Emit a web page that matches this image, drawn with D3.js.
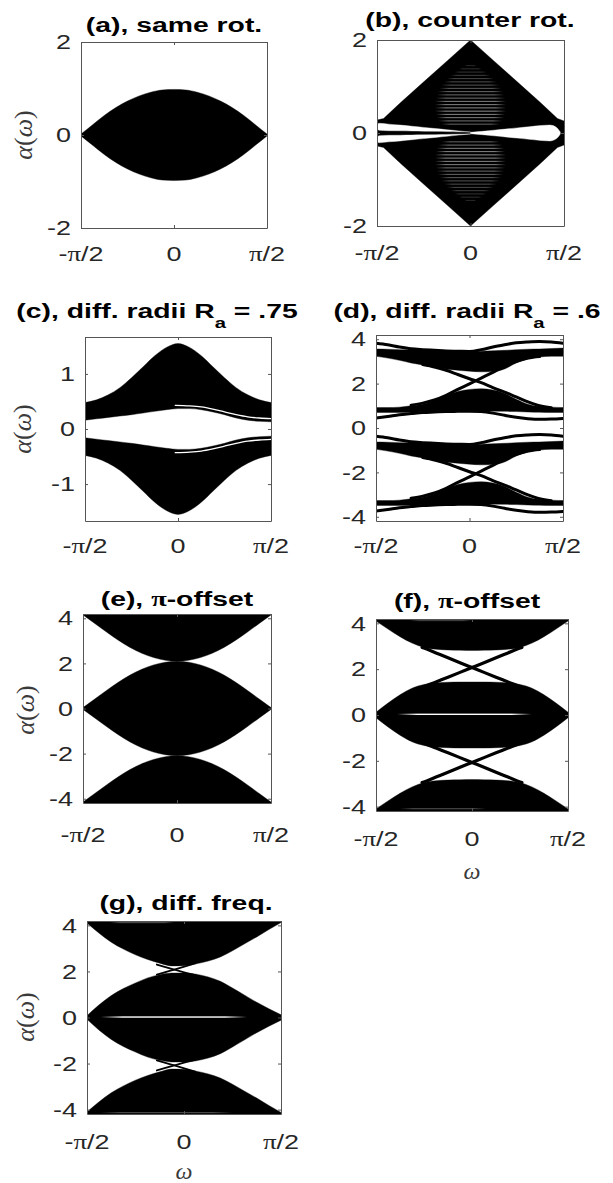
<!DOCTYPE html>
<html>
<head>
<meta charset="utf-8">
<script src="https://cdn.jsdelivr.net/npm/d3@7"></script>
<style>
  html, body { margin: 0; padding: 0; background: #fff; }
  svg { display: block; }
</style>
</head>
<body>
<svg id="fig" width="613" height="1183"></svg>
<script>
// ---------------------------------------------------------------
// Quasi-energy spectra α(ω) for seven rotor configurations.
// ω is stored in units of π/2, so the x range is [-1, 1].
// ---------------------------------------------------------------

const omega = [-1, -0.875, -0.75, -0.625, -0.5, -0.375, -0.25, -0.125, 0,
               0.125, 0.25, 0.375, 0.5, 0.625, 0.75, 0.875, 1];
const omegaTicks = [-1, 0, 1];
const omegaTickLabels = ["-π/2", "0", "π/2"];

const alphaTicksSmall = [-2, 0, 2];
const alphaTicksRa75 = [-1, 0, 1];
const alphaTicksWide = [-4, -2, 0, 2, 4];
const alphaMax = 4.19;          // 4π/3, the quasi-energy zone edge
const alphaMaxRa75 = 1.67;

// (a) same rotation: single band, symmetric in α
const aBandTop = [0.02, 0.22, 0.42, 0.59, 0.73, 0.84, 0.92, 0.97, 0.98,
                  0.97, 0.92, 0.84, 0.73, 0.59, 0.42, 0.22, 0.02];

// (b) counter rotation: diamond-shaped band with gaps around α = 0
const omegaB = [-1, -0.93, -0.75, -0.5, -0.25, 0, 0.25, 0.5, 0.75, 0.93, 1];
const bOuterTop = [0.28, 0.31, 0.65, 1.10, 1.55, 2.0, 1.55, 1.10, 0.65, 0.31, 0.26];
const omegaGapLeft = [-1, -0.98, -0.875, -0.75, -0.625, -0.5, -0.375, -0.25, -0.125, 0];
const bGapUpperLeftTop = [0.15, 0.21, 0.19, 0.17, 0.145, 0.12, 0.095, 0.07, 0.045, 0.02];
const bGapUpperLeftBottom = [0.13, 0.06, 0.05, 0.048, 0.044, 0.04, 0.035, 0.03, 0.025, 0.02];
const omegaGapRight = [0, 0.125, 0.25, 0.375, 0.5, 0.625, 0.75, 0.85, 0.92, 0.96];
const bGapRightTop = [0.015, 0.035, 0.06, 0.085, 0.11, 0.135, 0.16, 0.17, 0.12, 0.02];
// fine interference stripes inside the diamond (upper half)
const bStripeLevels = [1.45, 1.38, 1.31, 1.24, 1.17, 1.10, 1.03, 0.96, 0.89, 0.82,
                       0.75, 0.68, 0.61, 0.54, 0.47, 0.40, 0.33, 0.26, 0.19];
const bStripeHalfWidth = [0.06, 0.12, 0.17, 0.21, 0.25, 0.28, 0.31, 0.33, 0.35, 0.36,
                          0.37, 0.38, 0.38, 0.38, 0.38, 0.37, 0.36, 0.34, 0.31];
const bStripeOpacity = [0.15, 0.18, 0.2, 0.24, 0.27, 0.3, 0.33, 0.36, 0.4, 0.42,
                        0.45, 0.5, 0.52, 0.55, 0.55, 0.52, 0.5, 0.45, 0.4];

// (c) different radii, R_a = .75
const cUpperTop = [0.48, 0.53, 0.62, 0.75, 0.93, 1.13, 1.33, 1.48, 1.55,
                   1.48, 1.33, 1.13, 0.93, 0.75, 0.62, 0.53, 0.48];
const cUpperBottom = [0.16, 0.185, 0.21, 0.235, 0.26, 0.29, 0.32, 0.35, 0.37,
                      0.37, 0.35, 0.31, 0.26, 0.20, 0.16, 0.14, 0.13];
const omegaCEdge = [-0.03, 0.125, 0.25, 0.375, 0.5, 0.625, 0.75, 0.875, 1];
const cEdgeState = [0.43, 0.42, 0.40, 0.36, 0.31, 0.26, 0.22, 0.20, 0.19];

// (d) different radii, R_a = .6 (one zone; repeats every dPeriod in α)
const dPeriod = 4.19;
const dTopBandTop = [3.56, 3.55, 3.53, 3.52, 3.50, 3.49, 3.47, 3.46, 3.45,
                     3.46, 3.48, 3.50, 3.53, 3.55, 3.56, 3.58, 3.60];
const dTopBandBottom = [3.23, 3.15, 3.05, 2.93, 2.84, 2.75, 2.66, 2.60, 2.56,
                        2.53, 2.54, 2.66, 2.93, 3.11, 3.20, 3.23, 3.23];
const dLowBandTop = [0.92, 0.92, 0.94, 1.00, 1.07, 1.22, 1.44, 1.64, 1.74,
                     1.77, 1.71, 1.56, 1.29, 1.07, 0.97, 0.94, 0.92];
const dLowBandBottom = [0.70, 0.70, 0.70, 0.71, 0.73, 0.75, 0.76, 0.77, 0.77,
                        0.77, 0.76, 0.75, 0.74, 0.72, 0.71, 0.70, 0.70];
const dTopLine = [3.82, 3.75, 3.65, 3.57, 3.53, 3.50, 3.47, 3.46, 3.45,
                  3.53, 3.65, 3.75, 3.84, 3.88, 3.90, 3.88, 3.82];
const dBottomLine = [0.45, 0.52, 0.60, 0.65, 0.70, 0.72, 0.74, 0.75, 0.76,
                     0.74, 0.67, 0.57, 0.48, 0.42, 0.39, 0.40, 0.43];
const omegaDRise = [-0.625, -0.5, -0.375, -0.25, -0.125, 0, 0.125, 0.25, 0.375, 0.5, 0.625, 0.75];
const dRiseLine = [1.03, 1.12, 1.26, 1.47, 1.74, 1.99, 2.25, 2.51, 2.78, 3.00, 3.15, 3.22];
const omegaDFall = [-0.5, -0.375, -0.25, -0.125, 0, 0.125, 0.25, 0.375, 0.5, 0.625, 0.75, 0.875];
const dFallLine = [2.86, 2.75, 2.60, 2.41, 2.22, 2.04, 1.82, 1.62, 1.40, 1.18, 1.00, 0.91];

// (e) π-offset
const eMidTop = [0.04, 0.42, 0.80, 1.16, 1.48, 1.74, 1.93, 2.05, 2.09,
                 2.05, 1.93, 1.74, 1.48, 1.16, 0.80, 0.42, 0.04];
const eTopBandBottom = [4.15, 3.77, 3.39, 3.03, 2.71, 2.45, 2.26, 2.14, 2.10,
                        2.14, 2.26, 2.45, 2.71, 3.03, 3.39, 3.77, 4.15];

// (f) π-offset with edge states crossing the gaps
const fTopBandBottom = [4.10, 3.75, 3.42, 3.14, 2.95, 2.87, 2.84, 2.83, 2.82,
                        2.83, 2.84, 2.87, 2.95, 3.14, 3.42, 3.75, 4.10];
const fMidTop = [0.12, 0.52, 0.88, 1.17, 1.33, 1.40, 1.43, 1.44, 1.44,
                 1.44, 1.43, 1.40, 1.33, 1.17, 0.88, 0.52, 0.12];
const omegaFX = [-0.52, -0.5, -0.375, -0.25, -0.125, 0, 0.125, 0.25, 0.375, 0.5, 0.52];
const fRiseLine = [1.19, 1.23, 1.44, 1.65, 1.86, 2.07, 2.28, 2.50, 2.71, 2.92, 2.95];
const fFallLine = [2.95, 2.92, 2.71, 2.50, 2.28, 2.07, 1.86, 1.65, 1.44, 1.23, 1.19];
const fStreaks = [
  { from: -0.78, to: 0.62, value: 0.03, opacity: 1, thick: 1.4 },
  { from: -0.75, to: 0.15, value: -4.09, opacity: 0.3, thick: 1.1 },
  { from: -0.65, to: 0.0, value: 4.12, opacity: 0.25, thick: 1.1 }
];

// (g) different frequencies
const gTopBandBottom = [4.10, 3.66, 3.27, 2.97, 2.72, 2.52, 2.36, 2.24, 2.25,
                        2.33, 2.45, 2.63, 2.90, 3.20, 3.50, 3.82, 4.12];
const gMidTop = [0.08, 0.55, 0.95, 1.26, 1.50, 1.72, 1.86, 1.93, 1.93,
                 1.88, 1.76, 1.57, 1.28, 0.97, 0.66, 0.38, 0.12];
const omegaGX = [-0.28, -0.2, -0.1, 0.02, 0.12];
const gFallLine = [2.30, 2.20, 2.08, 1.94, 1.84];
const gRiseLine = [1.86, 1.96, 2.08, 2.23, 2.36];
const gStreaks = [
  { from: -0.86, to: 0.65, value: 0.02, opacity: 1, thick: 1.4 },
  { from: -0.76, to: -0.1, value: 4.12, opacity: 0.3, thick: 1.1 },
  { from: -0.86, to: 0.5, value: -4.13, opacity: 0.3, thick: 1.1 }
];

// ---------------------------------------------------------------
// Layers: bands (filled areas), lines, white streaks, stripes.
// `mirror` also draws the reflection α → −α; `offsets` repeats
// a layer shifted in α.
// ---------------------------------------------------------------
const BLACK = "#000";
const WHITE = "#fff";

const panels = [
  {
    id: "a", box: [81, 42, 267, 228], yDomain: [-2, 2], yTicks: alphaTicksSmall,
    title: [{ text: "(a), same rot." }], titleX: 174, titleY: 31.5,
    xLabY: 261, alphaLabel: { x: 32, y: 135 },
    layers: [
      { kind: "band", omega, hi: aBandTop, lo: aBandTop, loSign: -1, fill: BLACK }
    ]
  },
  {
    id: "b", box: [377, 40, 564, 226], yDomain: [-2, 2], yTicks: alphaTicksSmall,
    title: [{ text: "(b), counter rot." }], titleX: 470, titleY: 27,
    xLabY: 260,
    layers: [
      { kind: "band", omega: omegaB, hi: bOuterTop, lo: bOuterTop, loSign: -1, fill: BLACK, linear: true },
      { kind: "stripes", levels: bStripeLevels, half: bStripeHalfWidth, opacity: bStripeOpacity, mirror: true },
      { kind: "band", omega: omegaGapLeft, hi: bGapUpperLeftTop, lo: bGapUpperLeftBottom, fill: WHITE, mirror: true },
      { kind: "band", omega: omegaGapRight, hi: bGapRightTop, lo: bGapRightTop, loSign: -1, fill: WHITE }
    ]
  },
  {
    id: "c", box: [85, 337, 271, 521], yDomain: [-alphaMaxRa75, alphaMaxRa75], yTicks: alphaTicksRa75,
    title: [{ text: "(c), diff. radii R" }, { text: "a", size: 15, dy: 10 }, { text: " = .75", dy: -10 }],
    titleX: 157, titleY: 318,
    xLabY: 553, alphaLabel: { x: 31, y: 429 },
    layers: [
      { kind: "band", omega, hi: cUpperTop, lo: cUpperBottom, fill: BLACK, mirror: true },
      { kind: "line", omega: omegaCEdge, values: cEdgeState, color: WHITE, width: 1.3, mirror: true }
    ]
  },
  {
    id: "d", box: [376, 335, 563, 521], yDomain: [-alphaMax, alphaMax], yTicks: alphaTicksWide,
    title: [{ text: "(d), diff. radii R" }, { text: "a", size: 15, dy: 10 }, { text: " = .6", dy: -10 }],
    titleX: 467, titleY: 318,
    xLabY: 553,
    layers: [
      { kind: "band", omega, hi: dTopBandTop, lo: dTopBandBottom, fill: BLACK, offsets: [0, -dPeriod] },
      { kind: "band", omega, hi: dLowBandTop, lo: dLowBandBottom, fill: BLACK, offsets: [0, -dPeriod] },
      { kind: "line", omega, values: dTopLine, color: BLACK, width: 3, offsets: [0, -dPeriod] },
      { kind: "line", omega, values: dBottomLine, color: BLACK, width: 3, offsets: [0, -dPeriod] },
      { kind: "line", omega: omegaDRise, values: dRiseLine, color: BLACK, width: 3, offsets: [0, -dPeriod] },
      { kind: "line", omega: omegaDFall, values: dFallLine, color: BLACK, width: 3, offsets: [0, -dPeriod] }
    ]
  },
  {
    id: "e", box: [83, 614, 271, 803], yDomain: [-alphaMax, alphaMax], yTicks: alphaTicksWide,
    title: [{ text: "(e), " }, { text: "π", serif: true }, { text: "-offset" }], titleX: 177, titleY: 606,
    xLabY: 842, alphaLabel: { x: 34, y: 710 },
    layers: [
      { kind: "band", omega, hi: eMidTop, lo: eMidTop, loSign: -1, fill: BLACK },
      { kind: "bandToEdge", omega, lo: eTopBandBottom, fill: BLACK, mirror: true }
    ]
  },
  {
    id: "f", box: [376, 619, 568, 811], yDomain: [-alphaMax, alphaMax], yTicks: alphaTicksWide,
    title: [{ text: "(f), " }, { text: "π", serif: true }, { text: "-offset" }], titleX: 467, titleY: 608,
    xLabY: 846, omegaLabel: { x: 472, y: 879 },
    layers: [
      { kind: "band", omega, hi: fMidTop, lo: fMidTop, loSign: -1, fill: BLACK },
      { kind: "bandToEdge", omega, lo: fTopBandBottom, fill: BLACK, mirror: true },
      { kind: "line", omega: omegaFX, values: fRiseLine, color: BLACK, width: 3.2, mirror: true },
      { kind: "line", omega: omegaFX, values: fFallLine, color: BLACK, width: 3.2, mirror: true },
      { kind: "streaks", items: fStreaks }
    ]
  },
  {
    id: "g", box: [87, 921, 281, 1114], yDomain: [-alphaMax, alphaMax], yTicks: alphaTicksWide,
    title: [{ text: "(g), diff. freq." }], titleX: 186, titleY: 910,
    xLabY: 1149, alphaLabel: { x: 34, y: 1017 }, omegaLabel: { x: 184, y: 1179 },
    layers: [
      { kind: "band", omega, hi: gMidTop, lo: gMidTop, loSign: -1, fill: BLACK },
      { kind: "bandToEdge", omega, lo: gTopBandBottom, fill: BLACK, mirror: true },
      { kind: "line", omega: omegaGX, values: gFallLine, color: BLACK, width: 1.8, mirror: true },
      { kind: "line", omega: omegaGX, values: gRiseLine, color: BLACK, width: 1.8, mirror: true },
      { kind: "streaks", items: gStreaks }
    ]
  }
];

// ---------------------------------------------------------------
const SANS = "'Liberation Sans', Arial, Helvetica, sans-serif";
const SERIF = "'Liberation Serif', 'Times New Roman', serif";
const TEXT_SX = 1.35;            // wide rendering of the axis fonts
const AXIS_COLOR = "#555";
const LABEL_COLOR = "#262626";
const TICK_LEN = 3;

const svg = d3.select("#fig");
const defs = svg.append("defs");

// horizontal fade for thin white streaks
const fade = defs.append("linearGradient").attr("id", "fadeX")
  .attr("x1", 0).attr("x2", 1).attr("y1", 0).attr("y2", 0);
[[0, 0], [0.15, 1], [0.85, 1], [1, 0]].forEach(([o, a]) =>
  fade.append("stop").attr("offset", o).attr("stop-color", "#fff").attr("stop-opacity", a));

function addText(parent, x, y, parts, o) {
  let tf = `translate(${x},${y})`;
  if (o.sx) tf += ` scale(${o.sx},1)`;
  if (o.rotate) tf += ` rotate(${o.rotate})`;
  const t = parent.append("text")
    .attr("transform", tf)
    .attr("text-anchor", o.anchor || "middle")
    .attr("font-family", o.family || SANS)
    .attr("font-size", o.size)
    .attr("font-weight", o.weight || "normal")
    .attr("fill", o.color || "#000");
  if (o.dy) t.attr("dy", o.dy);
  parts.forEach(p => {
    const s = t.append("tspan").text(p.text);
    if (p.serif) s.attr("font-family", SERIF);
    if (p.italic) s.attr("font-style", "italic");
    if (p.size) s.attr("font-size", p.size);
    if (p.dy) s.attr("dy", p.dy);
  });
  return t;
}

// split a tick label so that π uses a serif face
function tickParts(label) {
  return label.split(/(π)/).filter(s => s.length).map(s => ({ text: s, serif: s === "π" }));
}

function variants(L) {
  const out = [];
  const offs = L.offsets || [0];
  offs.forEach(off => {
    out.push({ sign: 1, off });
    if (L.mirror) out.push({ sign: -1, off });
  });
  return out;
}

function drawLayer(plot, L, x, y, yDomain) {
  const smooth = d3.curveMonotoneX;
  if (L.kind === "band") {
    variants(L).forEach(({ sign, off }) => {
      const loSign = L.loSign || 1;
      const rows = L.omega.map((w, i) => ({
        w, a: sign * L.hi[i] + off, b: sign * loSign * L.lo[i] + off
      }));
      const area = d3.area().x(d => x(d.w)).y0(d => y(d.b)).y1(d => y(d.a))
        .curve(L.linear ? d3.curveLinear : smooth);
      plot.append("path").datum(rows).attr("d", area).attr("fill", L.fill)
        .attr("stroke", L.fill).attr("stroke-width", 0.4);
    });
  } else if (L.kind === "bandToEdge") {
    // band reaching the zone edge of the axis
    variants(L).forEach(({ sign, off }) => {
      const edge = sign * (yDomain[1] + 0.2);
      const rows = L.omega.map((w, i) => ({ w, a: edge, b: sign * L.lo[i] + off }));
      const area = d3.area().x(d => x(d.w)).y0(d => y(d.b)).y1(d => y(d.a)).curve(smooth);
      plot.append("path").datum(rows).attr("d", area).attr("fill", L.fill)
        .attr("stroke", L.fill).attr("stroke-width", 0.4);
    });
  } else if (L.kind === "line") {
    variants(L).forEach(({ sign, off }) => {
      const rows = L.omega.map((w, i) => ({ w, v: sign * L.values[i] + off }));
      const line = d3.line().x(d => x(d.w)).y(d => y(d.v)).curve(smooth);
      plot.append("path").datum(rows).attr("d", line).attr("fill", "none")
        .attr("stroke", L.color).attr("stroke-width", L.width)
        .attr("stroke-linecap", "round");
    });
  } else if (L.kind === "streaks") {
    L.items.forEach(s => {
      plot.append("rect")
        .attr("x", x(s.from)).attr("width", x(s.to) - x(s.from))
        .attr("y", y(s.value) - s.thick / 2).attr("height", s.thick)
        .attr("fill", "url(#fadeX)").attr("opacity", s.opacity);
    });
  } else if (L.kind === "stripes") {
    variants(L).forEach(({ sign }) => {
      L.levels.forEach((lv, i) => {
        plot.append("rect")
          .attr("x", x(-L.half[i])).attr("width", x(L.half[i]) - x(-L.half[i]))
          .attr("y", y(sign * lv) - 0.5).attr("height", 1)
          .attr("fill", "url(#fadeX)").attr("opacity", L.opacity[i]);
      });
    });
  }
}

function drawPanel(p) {
  const [x0, y0, x1, y1] = p.box;
  const x = d3.scaleLinear().domain([-1, 1]).range([x0, x1]);
  const y = d3.scaleLinear().domain(p.yDomain).range([y1, y0]);
  const g = svg.append("g").attr("class", "panel-" + p.id);

  const clipId = "clip-" + p.id;
  defs.append("clipPath").attr("id", clipId).append("rect")
    .attr("x", x0).attr("y", y0).attr("width", x1 - x0).attr("height", y1 - y0);
  const plot = g.append("g").attr("clip-path", `url(#${clipId})`);
  p.layers.forEach(L => drawLayer(plot, L, x, y, p.yDomain));

  // boxed axes with inward ticks on all four sides
  const axes = [
    [d3.axisBottom(x).tickValues(omegaTicks), `translate(0,${y1})`],
    [d3.axisTop(x).tickValues(omegaTicks), `translate(0,${y0})`],
    [d3.axisLeft(y).tickValues(p.yTicks), `translate(${x0},0)`],
    [d3.axisRight(y).tickValues(p.yTicks), `translate(${x1},0)`]
  ];
  axes.forEach(([ax, tf]) => {
    const a = g.append("g").attr("transform", tf)
      .call(ax.tickSize(-TICK_LEN).tickSizeOuter(0).tickFormat(""));
    a.selectAll("path, line").attr("stroke", AXIS_COLOR).attr("stroke-width", 1);
  });

  // tick labels
  p.yTicks.forEach(v => {
    addText(g, x0 - 10, y(v), [{ text: String(v) }],
      { anchor: "end", size: 20, sx: TEXT_SX, color: LABEL_COLOR, dy: "0.36em" });
  });
  omegaTicks.forEach((w, i) => {
    addText(g, x(w), p.xLabY, tickParts(omegaTickLabels[i]),
      { anchor: "middle", size: 20, sx: TEXT_SX, color: LABEL_COLOR });
  });

  // title
  addText(g, p.titleX, p.titleY, p.title,
    { anchor: "middle", size: 21, weight: "bold", sx: TEXT_SX, color: "#000" });

  if (p.alphaLabel) {
    addText(g, p.alphaLabel.x, p.alphaLabel.y,
      [{ text: "α", italic: true }, { text: "(" }, { text: "ω", italic: true }, { text: ")" }],
      { anchor: "middle", size: 26, family: SERIF, rotate: -90, color: "#3a3a3a" });
  }
  if (p.omegaLabel) {
    addText(g, p.omegaLabel.x, p.omegaLabel.y, [{ text: "ω", italic: true }],
      { anchor: "middle", size: 24, family: SERIF, color: "#3a3a3a" });
  }
}

panels.forEach(drawPanel);
</script>
</body>
</html>
